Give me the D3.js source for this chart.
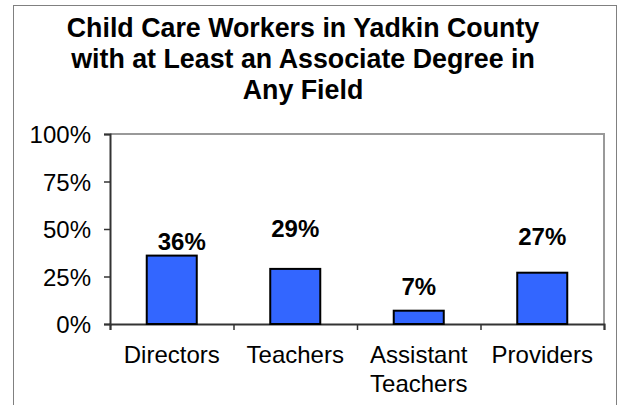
<!DOCTYPE html>
<html>
<head>
<meta charset="utf-8">
<script src="https://cdn.jsdelivr.net/npm/d3@7"></script>
<style>
  body { margin: 0; background: #fff; }
  text { font-family: "Liberation Sans", Arial, sans-serif; }
</style>
</head>
<body>
<div id="chart"></div>
<script>
const titleLines = ['Child Care Workers in Yadkin County', 'with at Least an Associate Degree in', 'Any Field'];
const categories = ['Directors', 'Teachers', 'Assistant Teachers', 'Providers'];
const values = [0.36, 0.29, 0.07, 0.27];
const yTicks = [0, 0.25, 0.5, 0.75, 1];
// labels were dragged around by hand in the original
const labelLift = [1, 27, 11, 23];
const labelShift = [10, 0, 0, 0];

const width = 620, height = 405;
const margin = { top: 134, right: 16, bottom: 81, left: 110 };
const tickFont = '24px';

const svg = d3.select('#chart').append('svg')
  .attr('width', width)
  .attr('height', height);

// outer frame
svg.append('rect')
  .attr('x', 13.5).attr('y', 5.5)
  .attr('width', 603).attr('height', 420)
  .attr('fill', 'none')
  .attr('stroke', '#808080')
  .attr('stroke-width', 1);

svg.append('text')
  .attr('text-anchor', 'middle')
  .style('font-size', '26.8px')
  .style('font-weight', 'bold')
  .selectAll('tspan')
  .data(titleLines)
  .enter()
  .append('tspan')
  .attr('x', 303)
  .attr('y', (d, i) => 37 + i * 31)
  .text(d => d);

const x = d3.scaleBand()
  .domain(categories)
  .range([margin.left, width - margin.right])
  .paddingInner(0.595)
  .paddingOuter(0.2975);

const y = d3.scaleLinear()
  .domain([0, 1])
  .range([height - margin.bottom, margin.top]);

// plot area border (top + right)
svg.append('path')
  .attr('d', `M${margin.left},${margin.top}H${width - margin.right}V${height - margin.bottom}`)
  .attr('fill', 'none')
  .attr('stroke', '#999')
  .attr('stroke-width', 2);

const yAxis = svg.append('g')
  .attr('transform', `translate(${margin.left},0)`)
  .call(d3.axisLeft(y).tickValues(yTicks).tickFormat(d3.format('.0%')).tickSize(6).tickPadding(13));

// x axis: ticks sit between categories
const xb = d3.scaleLinear().domain([0, categories.length]).range([margin.left, width - margin.right]);
const xAxis = svg.append('g')
  .attr('transform', `translate(0,${height - margin.bottom})`)
  .call(d3.axisBottom(xb).ticks(categories.length).tickSize(6).tickFormat(''));

[yAxis, xAxis].forEach(g => {
  g.select('.domain').attr('stroke', '#333').attr('stroke-width', 2);
  g.selectAll('.tick line').attr('stroke', '#333').attr('stroke-width', 1.5);
  g.selectAll('.tick text')
    .attr('fill', '#000')
    .style('font-size', tickFont)
    .style('font-family', '"Liberation Sans", Arial, sans-serif');
});
yAxis.selectAll('.tick text').attr('dy', '0.36em');

// category labels (wrap on space for long names)
const catLabels = svg.append('g')
  .style('font-size', tickFont)
  .attr('text-anchor', 'middle');
catLabels.selectAll('text')
  .data(categories)
  .enter()
  .append('text')
  .each(function (d) {
    const lines = d.split(' ');
    d3.select(this).selectAll('tspan')
      .data(lines)
      .enter()
      .append('tspan')
      .attr('x', x(d) + x.bandwidth() / 2)
      .attr('y', (l, i) => height - margin.bottom + 39 + i * 28.5)
      .text(l => l);
  });

svg.append('g')
  .selectAll('rect')
  .data(values)
  .enter()
  .append('rect')
  .attr('x', (d, i) => x(categories[i]))
  .attr('y', d => y(d))
  .attr('width', x.bandwidth())
  .attr('height', d => y(0) - y(d))
  .attr('fill', '#3366ff')
  .attr('stroke', '#000')
  .attr('stroke-width', 2);

svg.append('g')
  .attr('text-anchor', 'middle')
  .style('font-size', tickFont)
  .style('font-weight', 'bold')
  .selectAll('text')
  .data(values)
  .enter()
  .append('text')
  .attr('x', (d, i) => x(categories[i]) + x.bandwidth() / 2 + labelShift[i])
  .attr('y', (d, i) => y(d) - 5 - labelLift[i])
  .text(d => d3.format('.0%')(d));
</script>
</body>
</html>
